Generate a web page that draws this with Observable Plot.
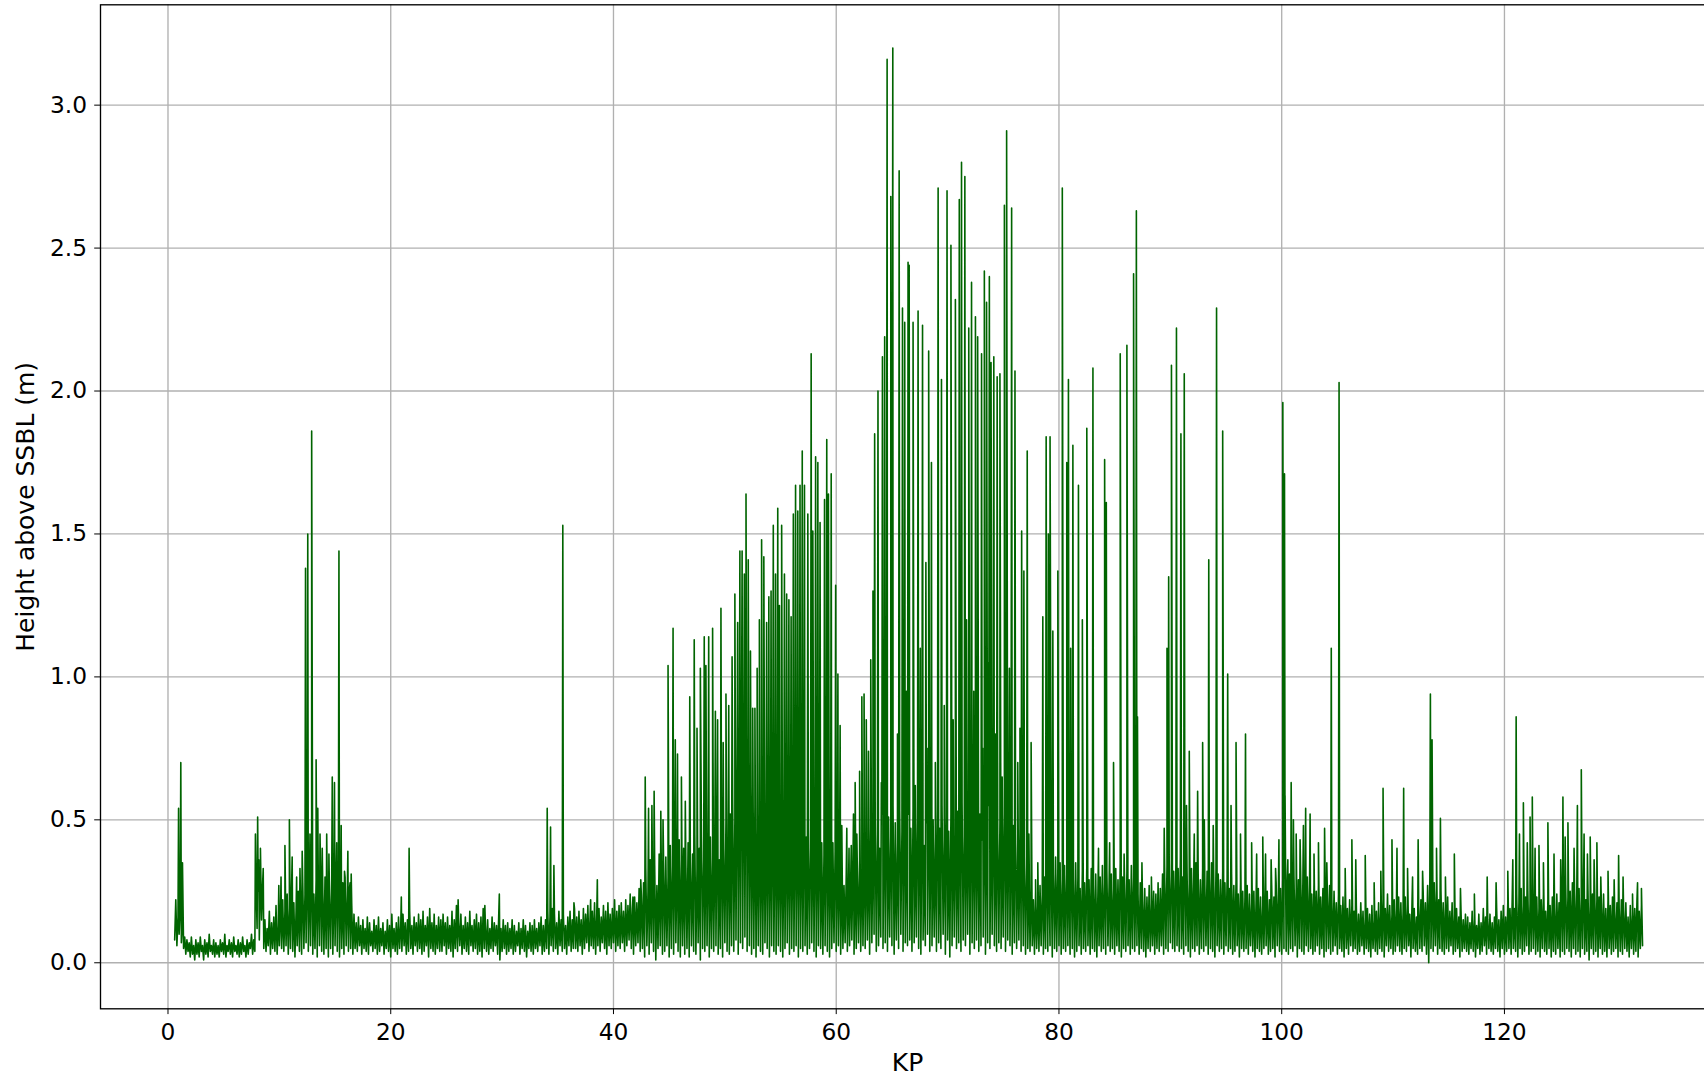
<!DOCTYPE html>
<html>
<head>
<meta charset="utf-8">
<script src="https://cdn.jsdelivr.net/npm/d3@7"></script>
<script src="https://cdn.jsdelivr.net/npm/@observablehq/plot@0.6"></script>
<style>
  html, body { margin: 0; padding: 0; background: #fff; overflow: hidden; }
  #chart { width: 1714px; height: 1077px; }
</style>
</head>
<body>
<div id="chart"></div>
<script>
// Noise band, sampled every 0.2 km: lower readings (from KP 0.6) and upper readings (from KP 0.7)
const bandStep = 0.2;
const lowStart = 0.6;
const bandLow = [
  0.08,0.06,0.10,0.07,0.05,0.03,0.04,0.02,0.03,0.01, // 0.6-2.4
  0.03,0.02,0.04,0.01,0.03,0.02,0.04,0.03,0.02,0.03, // 2.6-4.4
  0.02,0.04,0.03,0.02,0.04,0.03,0.02,0.04,0.03,0.02, // 4.6-6.4
  0.03,0.04,0.02,0.03,0.05,0.03,0.04,0.12,0.08,0.15, // 6.6-8.4
  0.05,0.04,0.06,0.03,0.05,0.04,0.03,0.06,0.05,0.04, // 8.6-10.4
  0.06,0.03,0.05,0.04,0.02,0.06,0.04,0.03,0.05,0.07, // 10.6-12.4
  0.04,0.06,0.03,0.05,0.02,0.06,0.04,0.03,0.05,0.02, // 12.6-14.4
  0.05,0.03,0.06,0.04,0.02,0.05,0.03,0.06,0.04,0.05, // 14.6-16.4
  0.03,0.05,0.04,0.06,0.03,0.05,0.04,0.03,0.06,0.04, // 16.6-18.4
  0.05,0.03,0.04,0.06,0.03,0.05,0.04,0.02,0.05,0.04, // 18.6-20.4
  0.03,0.05,0.04,0.06,0.03,0.04,0.05,0.03,0.06,0.04, // 20.6-22.4
  0.05,0.03,0.04,0.06,0.02,0.05,0.04,0.03,0.05,0.04, // 22.6-24.4
  0.04,0.06,0.03,0.05,0.04,0.02,0.05,0.04,0.06,0.03, // 24.6-26.4
  0.05,0.04,0.03,0.06,0.04,0.05,0.03,0.04,0.02,0.05, // 26.6-28.4
  0.04,0.03,0.05,0.04,0.06,0.03,0.01,0.04,0.05,0.03, // 28.6-30.4
  0.04,0.05,0.03,0.04,0.06,0.03,0.05,0.04,0.02,0.05, // 30.6-32.4
  0.04,0.03,0.05,0.04,0.06,0.03,0.04,0.05,0.03,0.06, // 32.6-34.4
  0.04,0.05,0.03,0.06,0.04,0.05,0.03,0.06,0.04,0.05, // 34.6-36.4
  0.05,0.04,0.06,0.03,0.05,0.07,0.04,0.06,0.05,0.03, // 36.6-38.4
  0.06,0.04,0.07,0.05,0.03,0.06,0.05,0.07,0.04,0.06, // 38.6-40.4
  0.05,0.07,0.04,0.06,0.08,0.05,0.03,0.06,0.07,0.04, // 40.6-42.4
  0.05,0.02,0.06,0.03,0.07,0.04,0.01,0.05,0.06,0.03, // 42.6-44.4
  0.04,0.06,0.02,0.05,0.03,0.07,0.04,0.02,0.06,0.03, // 44.6-46.4
  0.05,0.02,0.06,0.04,0.03,0.07,0.01,0.05,0.04,0.06, // 46.6-48.4
  0.02,0.05,0.04,0.06,0.03,0.05,0.02,0.07,0.04,0.03, // 48.6-50.4
  0.06,0.04,0.08,0.03,0.07,0.05,0.09,0.04,0.06,0.03, // 50.6-52.4
  0.05,0.02,0.06,0.04,0.03,0.07,0.05,0.02,0.06,0.04, // 52.6-54.4
  0.03,0.06,0.04,0.02,0.05,0.07,0.03,0.05,0.04,0.06, // 54.6-56.4
  0.02,0.05,0.04,0.06,0.03,0.05,0.07,0.04,0.02,0.06, // 56.6-58.4
  0.05,0.03,0.06,0.04,0.02,0.05,0.07,0.04,0.06,0.03, // 58.6-60.4
  0.05,0.07,0.04,0.06,0.08,0.03,0.05,0.07,0.04,0.06, // 60.6-62.4
  0.05,0.08,0.03,0.07,0.10,0.04,0.06,0.09,0.05,0.07, // 62.6-64.4
  0.04,0.09,0.06,0.03,0.08,0.05,0.10,0.04,0.07,0.06, // 64.6-66.4
  0.08,0.04,0.07,0.09,0.05,0.03,0.08,0.06,0.10,0.04, // 66.6-68.4
  0.06,0.09,0.04,0.07,0.05,0.10,0.03,0.08,0.02,0.06, // 68.6-70.4
  0.09,0.05,0.07,0.04,0.08,0.06,0.10,0.03,0.07,0.05, // 70.6-72.4
  0.08,0.04,0.06,0.09,0.03,0.07,0.05,0.10,0.06,0.04, // 72.6-74.4
  0.07,0.05,0.09,0.04,0.08,0.06,0.03,0.07,0.05,0.08, // 74.6-76.4
  0.04,0.06,0.03,0.05,0.04,0.06,0.03,0.05,0.04,0.06, // 76.6-78.4
  0.03,0.05,0.04,0.06,0.02,0.05,0.04,0.06,0.03,0.05, // 78.6-80.4
  0.04,0.06,0.03,0.05,0.02,0.04,0.06,0.03,0.05,0.04, // 80.6-82.4
  0.06,0.03,0.05,0.04,0.02,0.06,0.04,0.05,0.03,0.06, // 82.6-84.4
  0.04,0.05,0.03,0.06,0.04,0.02,0.05,0.04,0.06,0.03, // 84.6-86.4
  0.05,0.04,0.06,0.03,0.05,0.04,0.02,0.05,0.04,0.06, // 86.6-88.4
  0.03,0.05,0.04,0.06,0.03,0.05,0.04,0.07,0.05,0.04, // 88.6-90.4
  0.06,0.04,0.05,0.03,0.06,0.04,0.02,0.05,0.04,0.06, // 90.6-92.4
  0.03,0.05,0.04,0.06,0.03,0.05,0.04,0.02,0.06,0.04, // 92.6-94.4
  0.05,0.03,0.06,0.04,0.05,0.03,0.04,0.06,0.02,0.05, // 94.6-96.4
  0.04,0.05,0.03,0.06,0.04,0.02,0.05,0.04,0.03,0.05, // 96.6-98.4
  0.06,0.03,0.04,0.05,0.02,0.06,0.04,0.03,0.05,0.04, // 98.6-100.4
  0.03,0.05,0.04,0.06,0.02,0.05,0.04,0.03,0.06,0.04, // 100.6-102.4
  0.05,0.03,0.04,0.06,0.03,0.05,0.02,0.04,0.05,0.03, // 102.6-104.4
  0.04,0.06,0.03,0.05,0.04,0.02,0.05,0.03,0.06,0.04, // 104.6-106.4
  0.05,0.03,0.04,0.06,0.03,0.05,0.04,0.02,0.05,0.04, // 106.6-108.4
  0.03,0.05,0.04,0.02,0.06,0.04,0.05,0.03,0.04,0.06, // 108.6-110.4
  0.04,0.03,0.05,0.04,0.06,0.02,0.05,0.04,0.03,0.05, // 110.6-112.4
  0.04,0.06,0.03,0.00,0.05,0.04,0.06,0.03,0.05,0.04, // 112.6-114.4
  0.03,0.05,0.04,0.06,0.03,0.04,0.05,0.02,0.04,0.05, // 114.6-116.4
  0.04,0.03,0.05,0.04,0.02,0.05,0.03,0.04,0.06,0.03, // 116.6-118.4
  0.05,0.04,0.03,0.05,0.04,0.02,0.05,0.03,0.04,0.05, // 118.6-120.4
  0.03,0.05,0.04,0.02,0.05,0.03,0.04,0.06,0.03,0.04, // 120.6-122.4
  0.05,0.03,0.04,0.02,0.05,0.04,0.03,0.05,0.02,0.04, // 122.6-124.4
  0.03,0.05,0.02,0.04,0.03,0.05,0.04,0.02,0.05,0.03, // 124.6-126.4
  0.04,0.02,0.05,0.03,0.04,0.01,0.05,0.03,0.04,0.02, // 126.6-128.4
  0.05,0.03,0.04,0.02,0.05,0.03,0.04,0.05,0.02,0.04, // 128.6-130.4
  0.03,0.05,0.04,0.02,0.05,0.03,0.04,0.02,0.05,0.06  // 130.6-132.4
];
const highStart = 0.7;
const bandHigh = [
  0.22,0.16,0.20,0.14,0.09,0.08,0.07,0.09,0.06,0.08, // 0.7-2.5
  0.07,0.09,0.06,0.08,0.07,0.10,0.06,0.08,0.07,0.06, // 2.7-4.5
  0.08,0.07,0.10,0.06,0.08,0.07,0.09,0.06,0.08,0.07, // 4.7-6.5
  0.09,0.06,0.08,0.07,0.10,0.08,0.30,0.25,0.33,0.28, // 6.7-8.5
  0.15,0.12,0.18,0.14,0.16,0.20,0.13,0.17,0.22,0.18, // 8.7-10.5
  0.24,0.19,0.27,0.21,0.18,0.25,0.22,0.28,0.24,0.30, // 10.7-12.5
  0.27,0.31,0.24,0.29,0.26,0.33,0.25,0.30,0.27,0.24, // 12.7-14.5
  0.29,0.25,0.31,0.27,0.23,0.28,0.30,0.24,0.26,0.20, // 14.7-16.5
  0.17,0.14,0.16,0.13,0.15,0.12,0.16,0.14,0.11,0.15, // 16.7-18.5
  0.13,0.16,0.12,0.14,0.11,0.15,0.13,0.17,0.12,0.14, // 18.7-20.5
  0.16,0.13,0.17,0.14,0.15,0.18,0.13,0.16,0.14,0.17, // 20.7-22.5
  0.15,0.18,0.13,0.16,0.19,0.14,0.17,0.13,0.16,0.15, // 22.7-24.5
  0.17,0.14,0.16,0.13,0.18,0.15,0.20,0.14,0.17,0.13, // 24.7-26.5
  0.16,0.14,0.18,0.13,0.15,0.17,0.14,0.16,0.19,0.13, // 26.7-28.5
  0.15,0.12,0.16,0.14,0.13,0.17,0.12,0.15,0.13,0.14, // 28.7-30.5
  0.12,0.15,0.13,0.11,0.14,0.12,0.15,0.13,0.11,0.14, // 30.7-32.5
  0.13,0.15,0.12,0.14,0.16,0.13,0.15,0.18,0.16,0.19, // 32.7-34.5
  0.17,0.14,0.18,0.15,0.17,0.13,0.16,0.18,0.15,0.19, // 34.7-36.5
  0.16,0.18,0.15,0.19,0.17,0.20,0.16,0.18,0.21,0.17, // 36.7-38.5
  0.19,0.16,0.20,0.18,0.21,0.17,0.19,0.22,0.18,0.20, // 38.7-40.5
  0.21,0.18,0.22,0.20,0.24,0.19,0.23,0.21,0.26,0.24, // 40.7-42.5
  0.28,0.33,0.25,0.36,0.30,0.34,0.27,0.38,0.31,0.35, // 42.7-44.5
  0.37,0.30,0.41,0.34,0.39,0.32,0.43,0.36,0.40,0.34, // 44.7-46.5
  0.42,0.35,0.38,0.45,0.33,0.40,0.44,0.36,0.42,0.38, // 46.7-48.5
  0.44,0.37,0.41,0.48,0.36,0.45,0.40,0.50,0.43,0.52, // 48.7-50.5
  0.58,0.50,0.70,0.62,0.85,0.72,0.95,0.80,0.70,0.62, // 50.7-52.5
  0.55,0.47,0.52,0.44,0.49,0.42,0.47,0.43,0.50,0.45, // 52.7-54.5
  0.41,0.46,0.43,0.38,0.45,0.40,0.47,0.42,0.48,0.44, // 54.7-56.5
  0.46,0.41,0.49,0.44,0.40,0.47,0.43,0.45,0.41,0.46, // 56.7-58.5
  0.42,0.38,0.44,0.40,0.36,0.42,0.39,0.35,0.33,0.30, // 58.7-60.5
  0.27,0.31,0.25,0.29,0.34,0.28,0.32,0.36,0.33,0.40, // 60.7-62.5
  0.43,0.38,0.47,0.42,0.50,0.45,0.40,0.52,0.46,0.49, // 62.7-64.5
  0.51,0.44,0.55,0.48,0.42,0.53,0.46,0.50,0.44,0.52, // 64.7-66.5
  0.47,0.54,0.43,0.50,0.46,0.52,0.41,0.49,0.55,0.45, // 66.7-68.5
  0.50,0.44,0.53,0.47,0.55,0.43,0.51,0.46,0.52,0.48, // 68.7-70.5
  0.45,0.53,0.49,0.56,0.44,0.50,0.47,0.54,0.48,0.51, // 70.7-72.5
  0.46,0.52,0.43,0.50,0.47,0.55,0.44,0.51,0.48,0.45, // 72.7-74.5
  0.49,0.44,0.52,0.46,0.50,0.43,0.48,0.45,0.42,0.47, // 74.7-76.5
  0.41,0.37,0.34,0.30,0.26,0.22,0.25,0.20,0.27,0.24, // 76.7-78.5
  0.30,0.34,0.28,0.36,0.31,0.37,0.33,0.35,0.29,0.34, // 78.7-80.5
  0.31,0.27,0.33,0.29,0.35,0.30,0.26,0.32,0.28,0.34, // 80.7-82.5
  0.29,0.33,0.27,0.31,0.25,0.30,0.34,0.28,0.32,0.27, // 82.7-84.5
  0.31,0.26,0.33,0.29,0.35,0.30,0.27,0.32,0.29,0.34, // 84.7-86.5
  0.30,0.27,0.24,0.28,0.22,0.26,0.23,0.27,0.21,0.25, // 86.7-88.5
  0.24,0.28,0.26,0.31,0.29,0.34,0.30,0.36,0.32,0.35, // 88.7-90.5
  0.33,0.37,0.30,0.34,0.32,0.28,0.33,0.30,0.35,0.31, // 90.7-92.5
  0.29,0.33,0.27,0.32,0.30,0.35,0.28,0.33,0.31,0.29, // 92.7-94.5
  0.32,0.28,0.30,0.26,0.31,0.27,0.29,0.24,0.28,0.25, // 94.7-96.5
  0.23,0.27,0.24,0.21,0.25,0.22,0.26,0.23,0.20,0.24, // 96.7-98.5
  0.25,0.22,0.27,0.23,0.28,0.24,0.26,0.30,0.33,0.29, // 98.7-100.5
  0.31,0.27,0.30,0.26,0.29,0.32,0.28,0.25,0.30,0.27, // 100.7-102.5
  0.24,0.28,0.25,0.27,0.23,0.26,0.29,0.24,0.27,0.22, // 102.7-104.5
  0.25,0.21,0.24,0.20,0.23,0.26,0.19,0.22,0.20,0.18, // 104.7-106.5
  0.20,0.17,0.21,0.18,0.16,0.19,0.17,0.20,0.15,0.18, // 106.7-108.5
  0.21,0.18,0.22,0.19,0.24,0.20,0.17,0.22,0.19,0.23, // 108.7-110.5
  0.21,0.18,0.23,0.20,0.17,0.21,0.19,0.16,0.20,0.22, // 110.7-112.5
  0.25,0.21,0.27,0.29,0.24,0.28,0.26,0.22,0.25,0.21, // 112.7-114.5
  0.20,0.23,0.18,0.21,0.17,0.19,0.16,0.18,0.15,0.17, // 114.7-116.5
  0.16,0.14,0.18,0.15,0.13,0.17,0.14,0.19,0.16,0.15, // 116.7-118.5
  0.17,0.14,0.16,0.19,0.15,0.18,0.20,0.16,0.21,0.19, // 118.7-120.5
  0.23,0.19,0.24,0.21,0.26,0.20,0.23,0.25,0.21,0.24, // 120.7-122.5
  0.20,0.23,0.19,0.22,0.24,0.18,0.22,0.20,0.23,0.19, // 122.7-124.5
  0.24,0.21,0.26,0.22,0.27,0.23,0.25,0.28,0.24,0.27, // 124.7-126.5
  0.26,0.23,0.27,0.22,0.25,0.21,0.24,0.26,0.22,0.23, // 126.7-128.5
  0.21,0.24,0.19,0.22,0.20,0.23,0.18,0.21,0.19,0.22, // 128.7-130.5
  0.18,0.21,0.16,0.20,0.17,0.19,0.22,0.18,0.20       // 130.7-132.3
];

// Tall spikes
const spikeKP = [
  0.95, 1.15, 1.3,
  7.85, 8.05, 8.15, 8.3, 8.55,
  9.95, 10.5, 10.9, 11.15, 11.55, 12.05,
  12.35, 12.55, 12.9, 13.3, 13.45, 13.65, 14.25, 14.75, 14.95, 15.35, 15.55, 15.85, 16.15, 16.45,
  20.95, 21.65, 26.05, 28.45, 29.75,
  34.05, 34.35, 34.65, 35.45, 36.45, 37.95, 38.55, 41.75, 42.45,
  42.85, 43.15, 43.45, 43.65, 44.25, 44.45, 44.9, 45.35, 45.55, 45.75, 46.1, 46.45, 46.85, 47.25, 47.5, 47.8,
  48.15, 48.3, 48.55, 48.9, 49.15, 49.35, 49.65, 49.85, 50.1, 50.35, 50.65, 50.9, 51.15, 51.35, 51.55, 51.75,
  51.9, 52.1, 52.3, 52.5, 52.7, 52.9, 53.1, 53.3, 53.5, 53.75, 53.95, 54.15, 54.35, 54.55, 54.75, 54.9,
  55.1, 55.35, 55.55, 55.75, 55.95, 56.15, 56.35, 56.55, 56.75, 56.95, 57.15, 57.45, 57.75, 57.9, 58.15, 58.35,
  58.55, 58.95, 59.15, 59.3, 59.55, 59.95, 60.15, 60.35, 60.5, 60.95, 61.35, 61.7, 62.1, 62.3,
  62.5, 62.9, 63.1, 63.45, 63.75, 64.15, 64.35, 64.57, 64.9, 65.08, 65.65, 65.95, 66.15, 66.45, 66.55, 66.9,
  67.1, 67.35, 67.75, 68.05, 68.3, 68.55, 69.15, 69.45, 69.95, 70.3, 70.7, 71.05, 71.25, 71.55, 71.9, 72.15,
  72.5, 72.7, 73.05, 73.3, 73.5, 73.75, 73.9, 74.15, 74.45, 74.7, 75.1, 75.3, 75.55, 75.75, 76.05, 76.5,
  76.65, 76.85, 77.15, 77.5, 77.9,
  78.55, 78.85, 79.05, 79.2, 79.45, 79.9, 80.3, 80.7, 80.85, 81.05, 81.25, 81.75, 82.1, 82.5, 83.05, 84.1,
  84.25, 84.9, 85.5, 86.1, 86.7, 86.95, 87.05, 89.45, 89.7, 89.85, 90.1, 90.55, 90.95, 91.25, 91.7, 92.45,
  92.9, 93.45, 94.15, 94.7, 95.15, 95.9, 96.75, 98.3, 99.75,
  100.1, 100.25, 100.3, 100.85, 101.3, 102.15, 102.55, 103.85, 104.45, 105.15, 106.3, 107.5, 109.1, 109.9,
  110.95, 112.25, 113.35, 113.5, 114.25, 115.5, 118.45, 121.05, 121.7, 122.3, 122.5, 123.1, 123.9, 125.25,
  125.7, 126.55, 126.9, 127.7, 128.3, 130.25, 132.3
];
const spikeH = [
  0.54, 0.70, 0.35,
  0.45, 0.51, 0.36, 0.40, 0.33,
  0.27, 0.41, 0.50, 0.37, 0.30, 0.39,
  1.38, 1.50, 1.86, 0.71, 0.54, 0.45, 0.45, 0.65, 0.63, 1.44, 0.48, 0.32, 0.39, 0.31,
  0.23, 0.40, 0.22, 0.20, 0.24,
  0.54, 0.475, 0.34, 1.53, 0.21, 0.22, 0.29, 0.23, 0.29,
  0.65, 0.54, 0.55, 0.60, 0.53, 0.50, 1.04, 1.17, 0.78, 0.73, 0.65, 0.565, 0.93, 1.13, 0.82, 1.03,
  1.14, 1.04, 1.14, 1.17, 0.88, 0.85, 1.24, 0.77, 0.94, 0.90, 1.07, 1.29, 1.19, 1.44, 1.44, 1.36,
  1.64, 1.41, 1.09, 0.89, 0.89, 1.03, 1.20, 1.48, 1.42, 1.19, 1.28, 1.30, 1.53, 1.36, 1.59, 1.25,
  1.53, 1.36, 1.29, 1.27, 1.21, 1.57, 1.67, 1.58, 1.67, 1.79, 1.67, 1.57, 2.13, 1.51, 1.77, 1.75,
  1.54, 1.62, 1.83, 1.64, 1.71, 1.32, 1.01, 0.83, 0.48, 0.47, 0.41, 0.63, 0.67, 0.93,
  0.94, 0.74, 1.06, 1.85, 2.00, 2.12, 2.19, 3.16, 2.68, 3.20, 2.77, 2.29, 2.24, 2.45, 2.44, 2.24,
  0.62, 2.28, 2.23, 1.40, 2.14, 1.75, 2.71, 2.04, 2.70, 2.51, 2.32, 2.67, 2.80, 2.75, 2.22, 2.38,
  2.26, 2.19, 2.13, 2.42, 2.31, 2.40, 2.10, 2.12, 2.05, 2.06, 2.65, 2.91, 1.03, 2.64, 2.07, 0.82,
  1.51, 1.37, 1.79, 0.77, 0.29,
  1.21, 1.84, 1.50, 1.84, 1.16, 1.37, 2.71, 1.75, 2.04, 1.10, 1.81, 1.67, 1.20, 1.87, 2.08, 1.76,
  1.61, 0.70, 2.13, 2.16, 2.41, 2.63, 0.86, 0.47, 1.10, 1.35, 2.09, 2.22, 1.85, 2.06, 0.74, 0.60,
  0.77, 1.41, 2.29, 1.86, 1.01, 0.77, 0.80, 0.44, 0.43,
  1.96, 1.71, 0.585, 0.63, 0.45, 0.54, 0.52, 0.47, 1.10, 2.03, 0.43, 0.375, 0.61, 0.43,
  0.61, 0.43, 0.94, 0.78, 0.505, 0.38, 0.30, 0.86, 0.56, 0.51, 0.58, 0.41, 0.49, 0.58,
  0.49, 0.55, 0.675, 0.44, 0.42, 0.375, 0.26
];

// Smaller secondary spikes
const minorKP = [
  10.15, 11.85, 12.75, 13.85, 14.45, 15.15, 16.35,
  61.15, 61.55, 61.85,
  62.7, 63.3, 64.05, 65.3, 65.5, 66.3, 67.55, 68.15, 68.9, 69.7, 70.5, 71.7, 72.35, 73.15, 73.65, 74.3,
  74.9, 76.3, 77.3, 78.1,
  83.55, 84.55, 85.85, 87.45, 88.3, 91.45, 92.15, 93.05, 93.85, 95.45, 96.3, 97.3, 97.75,
  98.55, 99.05, 99.45, 100.55, 101.05, 101.65, 101.95, 102.9, 103.3, 104.05, 105.7, 106.65, 108.3, 108.9,
  110.35, 111.3, 111.75, 112.65, 113.9, 114.7, 116.05, 117.3, 119.25, 120.3, 120.75, 121.35, 122.05, 122.75,
  123.5, 124.45, 125.05, 125.45, 126.25, 127.15, 127.45, 128.05, 128.65, 129.3, 129.85, 130.65, 131.5, 131.95
];
const minorH = [
  0.30, 0.33, 0.45, 0.40, 0.38, 0.42, 0.28,
  0.40, 0.52, 0.45,
  0.85, 1.30, 0.63, 0.49, 0.80, 0.95, 1.10, 0.75, 0.70, 0.90, 0.85, 1.20, 0.95, 0.75, 1.05, 0.80,
  0.65, 0.70, 0.45, 0.35,
  0.40, 0.42, 0.38, 0.35, 0.30, 0.55, 0.45, 0.50, 0.48, 0.55, 0.45, 0.42, 0.38,
  0.38, 0.36, 0.33, 0.36, 0.50, 0.43, 0.48, 0.38, 0.42, 0.35, 0.33, 0.36, 0.28, 0.32,
  0.40, 0.33, 0.30, 0.32, 0.40, 0.30, 0.26, 0.24, 0.28, 0.32, 0.36, 0.45, 0.42, 0.40,
  0.35, 0.38, 0.36, 0.44, 0.40, 0.45, 0.38, 0.36, 0.30, 0.32, 0.29, 0.30, 0.24, 0.28
];

// Axis ticks
const xTicks = [0, 20, 40, 60, 80, 100, 120];
const yTicks = [0, 0.5, 1.0, 1.5, 2.0, 2.5, 3.0];

// Build the table the line mark uses
const series = []
  .concat(bandLow.map((h, i) => ({kp: +(lowStart + i * bandStep).toFixed(2), h})))
  .concat(bandHigh.map((h, i) => ({kp: +(highStart + i * bandStep).toFixed(2), h})))
  .concat(spikeKP.map((k, i) => ({kp: k, h: spikeH[i]})))
  .concat(minorKP.map((k, i) => ({kp: k, h: minorH[i]})))
  .sort((a, b) => a.kp - b.kp);

const green = "#006400";
const grid = "#b0b0b0";

const chart = Plot.plot({
  width: 1714,
  height: 1077,
  marginLeft: 100,
  marginRight: 0,
  marginTop: 4.3,
  marginBottom: 68.7,
  style: {fontFamily: "'DejaVu Sans', sans-serif", fontSize: "23.3px", color: "#000", background: "#fff", overflow: "visible"},
  x: {domain: [-6.06, 138.86], ticks: xTicks, tickFormat: d => String(d), tickSize: 5.8, tickPadding: 9, label: null},
  y: {domain: [-0.161, 3.351], ticks: yTicks, tickFormat: d3.format(".1f"), tickSize: 5.8, tickPadding: 7.6, label: null},
  marks: [
    Plot.ruleX(xTicks, {stroke: grid, strokeWidth: 1.33}),
    Plot.ruleY(yTicks, {stroke: grid, strokeWidth: 1.33}),
    Plot.line(series, {x: "kp", y: "h", stroke: green, strokeWidth: 1.6}),
    Plot.frame({stroke: "#000", strokeWidth: 1.33}),
    Plot.text(["KP"], {frameAnchor: "bottom", lineAnchor: "top", dy: 44.4, fontSize: 25, fill: "#000"}),
    Plot.text(["Height above SSBL (m)"], {frameAnchor: "left", rotate: -90, textAnchor: "middle", lineAnchor: "top", dx: -84, fontSize: 25, fill: "#000"})
  ]
});
document.getElementById("chart").appendChild(chart);
</script>
</body>
</html>
